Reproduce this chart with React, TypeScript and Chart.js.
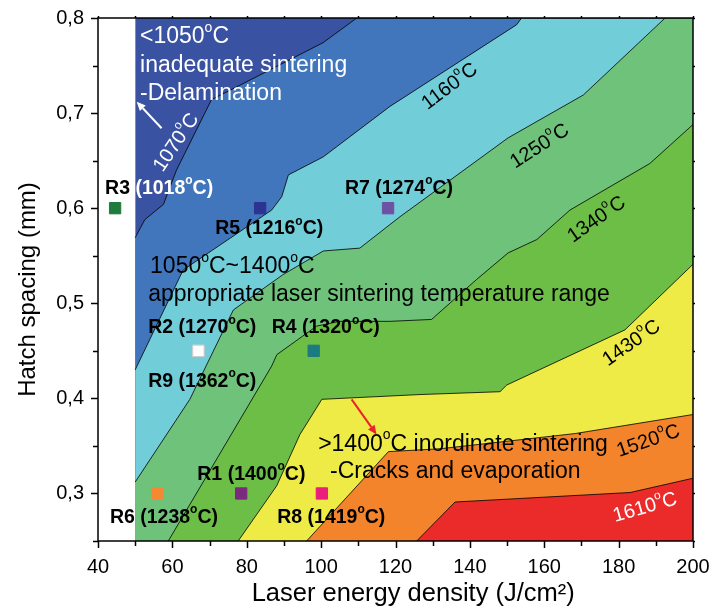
import React, { useEffect, useRef } from 'react';
import { Chart, registerables } from 'chart.js';

Chart.register(...registerables);

const FONT = "'Liberation Sans', Arial, Helvetica, sans-serif";

// ---- axes ----
const X_MIN = 40;
const X_MAX = 200;
const Y_MIN = 0.25;
const Y_MAX = 0.8;
const X_MAJOR = 20;
const X_MINOR = 10;
const Y_MAJOR = 0.1;
const Y_MINOR = 0.05;
const MAP_X_START = 50; // the map starts at 50 J/cm2
const X_TITLE = 'Laser energy density (J/cm²)';
const Y_TITLE = 'Hatch spacing (mm)';

// ---- contour lines [energy density, hatch spacing] ----
const contourLevels = ['1070', '1160', '1250', '1340', '1430', '1520', '1610'];
const c1070 = [[50, 0.569], [52.6, 0.588], [57.6, 0.604], [61.1, 0.64], [70.5, 0.714], [100.5, 0.774], [109.6, 0.8]];
const c1160 = [[50, 0.43], [62.9, 0.535], [86.7, 0.598], [89.4, 0.612], [91.2, 0.635], [100.6, 0.654], [118.5, 0.707], [152.6, 0.793], [153.9, 0.8]];
const c1250 = [[50, 0.312], [64.7, 0.399], [76.4, 0.493], [89.7, 0.53], [100.6, 0.555], [110.4, 0.558], [121.2, 0.591], [150.3, 0.674], [170.5, 0.719], [192.5, 0.8]];
const c1340 = [[58.9, 0.25], [86.7, 0.434], [88.1, 0.446], [98.8, 0.476], [105, 0.481], [118.5, 0.481], [129.7, 0.483], [141.8, 0.525], [150.3, 0.553], [158, 0.567], [166.9, 0.598], [188.4, 0.647], [200, 0.688]];
const c1430 = [[77.7, 0.25], [88.05, 0.308], [94.3, 0.362], [100.2, 0.399], [126.6, 0.404], [148.1, 0.407], [149.9, 0.414], [181.7, 0.472], [200, 0.541]];
const c1520 = [[96.1, 0.25], [118.1, 0.344], [132, 0.347], [168.3, 0.363], [200, 0.383]];
const c1610 = [[125.7, 0.25], [136, 0.291], [183.1, 0.301], [200, 0.316]];
const contourLines = [c1070, c1160, c1250, c1340, c1430, c1520, c1610];

// region colours, from coldest (<1070) to hottest (>1610)
const regionColors = ['#3a52a2', '#4276bc', '#71cdd8', '#6ec27a', '#6cbe46', '#eeea46', '#f3842c', '#eb2a2a'];

// ---- samples ----
const sampleNames = ['R1', 'R2', 'R3', 'R4', 'R5', 'R6', 'R7', 'R8', 'R9'];
const sampleTemps = [1400, 1270, 1018, 1320, 1216, 1238, 1274, 1419, 1362];
const sampleEnergy = [78.5, 67, 44.6, 98, 83.6, 55.9, 118, 100.2, 67];
const sampleHatch = [0.3, 0.45, 0.6, 0.45, 0.6, 0.3, 0.6, 0.3, 0.45];
const sampleColors = ['#7b2a80', '#ffffff', '#1f7b3c', '#1b7b80', '#2d3391', '#f58933', '#6d52a4', '#ea1e7b', '#ffffff'];

// ---- annotation layout (in data coordinates) ----
const sampleLabelAt = [[66.7, 0.32], [53.5, 0.474], [41.9, 0.621], [86.7, 0.474], [71.5, 0.578], [43.2, 0.2745], [106.4, 0.621], [88.2, 0.2745], [53.5, 0.418]];
const contourLabelAt = [[61.1, 0.669, -56], [134.6, 0.728, -37], [158.8, 0.665, -33], [174.1, 0.588, -35], [183.5, 0.458, -35], [188, 0.355, -19], [187.1, 0.285, -16]];
const contourLabelColor = ['#fff', '#000', '#000', '#000', '#000', '#000', '#fff'];
const noteLines = [
  { text: '<1050°C', at: [51.3, 0.78], color: '#fff' },
  { text: 'inadequate sintering', at: [51.3, 0.7496], color: '#fff' },
  { text: '-Delamination', at: [51.3, 0.72], color: '#fff' },
  { text: '1050°C~1400°C', at: [54.0, 0.538], color: '#000' },
  { text: 'appropriate laser sintering temperature range', at: [53.5, 0.509], color: '#000' },
  { text: '>1400°C inordinate sintering', at: [99.2, 0.3515], color: '#000' },
  { text: '-Cracks and evaporation', at: [102.4, 0.3234], color: '#000' },
];
const arrows = [
  { from: [57.1, 0.684], to: [50.4, 0.712], color: '#ffffff' },
  { from: [108.2, 0.399], to: [114.9, 0.362], color: '#e8232a' },
];

type Seg = { t: string; f: string; w: number; sup: boolean };

function drawRich(ctx: CanvasRenderingContext2D, text: string, x: number, y: number,
  size: number, color: string, bold = false, align: 'left' | 'center' = 'left', rot = 0): number {
  const base = `${bold ? 'bold ' : ''}${size}px ${FONT}`;
  const sup = `${bold ? 'bold ' : ''}${Math.round(size * 0.6)}px ${FONT}`;
  const parts = text.split('°');
  const segs: Seg[] = [];
  let total = 0;
  ctx.save();
  parts.forEach((p, i) => {
    if (i > 0) {
      ctx.font = sup;
      const w = ctx.measureText('o').width;
      segs.push({ t: 'o', f: sup, w, sup: true });
      total += w;
    }
    if (p) {
      ctx.font = base;
      const w = ctx.measureText(p).width;
      segs.push({ t: p, f: base, w, sup: false });
      total += w;
    }
  });
  ctx.translate(x, y);
  ctx.rotate((rot * Math.PI) / 180);
  ctx.textBaseline = 'middle';
  ctx.textAlign = 'left';
  ctx.fillStyle = color;
  let cx = align === 'center' ? -total / 2 : 0;
  for (const s of segs) {
    ctx.font = s.f;
    ctx.fillText(s.t, cx, s.sup ? -size * 0.4 : 0);
    cx += s.w;
  }
  ctx.restore();
  return total;
}

const decorPlugin = {
  id: 'decor',
  afterDatasetsDraw(chart: any) {
    const { ctx, scales } = chart;
    const xs = scales.x;
    const ys = scales.y;
    const P = (a: number[]) => [xs.getPixelForValue(a[0]), ys.getPixelForValue(a[1])];

    noteLines.forEach((n) => {
      const [px, py] = P(n.at);
      drawRich(ctx, n.text, px, py, 23, n.color);
    });

    contourLevels.forEach((lv, i) => {
      const a = contourLabelAt[i];
      const [px, py] = P(a);
      drawRich(ctx, `${lv}°C`, px, py, 20, contourLabelColor[i], false, 'center', a[2]);
    });

    sampleNames.forEach((nm, i) => {
      const [px, py] = P(sampleLabelAt[i]);
      const w = drawRich(ctx, `${nm} `, px, py, 19.5, '#000', true);
      const tempColor = nm === 'R3' ? '#fff' : '#000';
      drawRich(ctx, `(${sampleTemps[i]}°C)`, px + w, py, 19.5, tempColor, true);
    });

    arrows.forEach((a) => {
      const [x1, y1] = P(a.from);
      const [x2, y2] = P(a.to);
      const ang = Math.atan2(y2 - y1, x2 - x1);
      const hl = 9;
      const hw = 4;
      ctx.save();
      ctx.strokeStyle = a.color;
      ctx.fillStyle = a.color;
      ctx.lineWidth = 2;
      ctx.beginPath();
      ctx.moveTo(x1, y1);
      ctx.lineTo(x2 - hl * Math.cos(ang), y2 - hl * Math.sin(ang));
      ctx.stroke();
      ctx.beginPath();
      ctx.moveTo(x2, y2);
      ctx.lineTo(x2 - hl * Math.cos(ang) + hw * Math.sin(ang), y2 - hl * Math.sin(ang) - hw * Math.cos(ang));
      ctx.lineTo(x2 - hl * Math.cos(ang) - hw * Math.sin(ang), y2 - hl * Math.sin(ang) + hw * Math.cos(ang));
      ctx.closePath();
      ctx.fill();
      ctx.restore();
    });
  },
  afterDraw(chart: any) {
    const { ctx, chartArea: ca, scales } = chart;
    const xs = scales.x;
    const ys = scales.y;
    ctx.save();
    ctx.strokeStyle = '#000';
    ctx.lineWidth = 1.5;
    ctx.strokeRect(ca.left, ca.top, ca.right - ca.left, ca.bottom - ca.top);
    ctx.beginPath();
    for (let v = X_MIN; v <= X_MAX + 1e-9; v += X_MINOR) {
      const px = Math.round(xs.getPixelForValue(v)) + 0.5;
      const major = Math.abs(v / X_MAJOR - Math.round(v / X_MAJOR)) < 1e-6;
      const len = major ? 7 : 5;
      ctx.moveTo(px, ca.bottom);
      ctx.lineTo(px, ca.bottom + len);
      ctx.moveTo(px, ca.top);
      ctx.lineTo(px, ca.top - 2);
    }
    for (let v = Y_MIN; v <= Y_MAX + 1e-9; v += Y_MINOR) {
      const py = Math.round(ys.getPixelForValue(v)) + 0.5;
      const major = Math.abs(v / Y_MAJOR - Math.round(v / Y_MAJOR)) < 1e-6;
      const len = major ? 7 : 5;
      ctx.moveTo(ca.left, py);
      ctx.lineTo(ca.left - len, py);
      ctx.moveTo(ca.right, py);
      ctx.lineTo(ca.right + 2, py);
    }
    ctx.stroke();
    ctx.restore();
  },
};

function toPoints(pts: number[][]) {
  const arr = pts.map(([x, y]) => ({ x, y }));
  const last = pts[pts.length - 1];
  if (last[1] >= Y_MAX - 1e-9 && last[0] < X_MAX) arr.push({ x: X_MAX, y: Y_MAX });
  return arr;
}

export default function App() {
  const ref = useRef<HTMLCanvasElement>(null);
  useEffect(() => {
    document.body.style.margin = '0';
    const canvas = ref.current;
    if (!canvas) return;
    const nLayers = regionColors.length;
    const datasets: any[] = [];
    datasets.push({
      type: 'line',
      data: [{ x: MAP_X_START, y: Y_MAX }, { x: X_MAX, y: Y_MAX }],
      backgroundColor: regionColors[0],
      borderWidth: 0,
      pointRadius: 0,
      fill: 'start',
      order: nLayers + 1,
    });
    contourLines.forEach((line, i) => {
      datasets.push({
        type: 'line',
        label: contourLevels[i],
        data: toPoints(line),
        backgroundColor: regionColors[i + 1],
        borderColor: '#000',
        borderWidth: 0.8,
        pointRadius: 0,
        tension: 0,
        fill: 'start',
        order: nLayers - i,
      });
    });
    datasets.push({
      type: 'line',
      label: 'samples',
      data: sampleEnergy.map((x, i) => ({ x, y: sampleHatch[i] })),
      showLine: false,
      pointStyle: 'rect',
      pointRadius: 8,
      pointBackgroundColor: sampleColors,
      pointBorderColor: sampleColors.map((c) => (c === '#ffffff' ? '#cccccc' : c)),
      pointBorderWidth: 1,
      order: 0,
    });

    const chart = new Chart(canvas, {
      type: 'line',
      data: { datasets },
      options: {
        animation: false,
        responsive: false,
        devicePixelRatio: 1,
        layout: { padding: { top: 18, right: 18, left: 0, bottom: 0 } },
        plugins: { legend: { display: false }, tooltip: { enabled: false } },
        scales: {
          x: {
            type: 'linear',
            min: X_MIN,
            max: X_MAX,
            grid: { display: false, drawTicks: false },
            border: { display: false },
            ticks: {
              stepSize: X_MAJOR,
              autoSkip: false,
              maxRotation: 0,
              padding: 14,
              color: '#000',
              font: { family: FONT, size: 20 },
              callback: (v: any) => String(v),
            },
            title: {
              display: true,
              text: '     ' + X_TITLE,
              color: '#000',
              font: { family: FONT, size: 25.5, lineHeight: 1 },
              padding: { top: 0, bottom: 0 },
            },
            afterFit: (s: any) => {
              s.height = 66;
              s.paddingLeft = 0;
              s.paddingRight = 0;
            },
          },
          y: {
            type: 'linear',
            min: Y_MIN,
            max: Y_MAX,
            grid: { display: false, drawTicks: false },
            border: { display: false },
            ticks: {
              stepSize: Y_MAJOR,
              autoSkip: false,
              padding: 14,
              color: '#000',
              font: { family: FONT, size: 20 },
              callback: (v: any) => {
                const n = Number(v);
                if (Math.abs(n * 10 - Math.round(n * 10)) > 1e-6) return '';
                return n.toFixed(1).replace('.', ',');
              },
            },
            title: {
              display: true,
              text: Y_TITLE + '   ',
              color: '#000',
              font: { family: FONT, size: 24, lineHeight: 1 },
              padding: { top: 16, bottom: 0 },
            },
            afterFit: (s: any) => {
              s.width = 98;
              s.paddingTop = 0;
              s.paddingBottom = 0;
            },
          },
        },
      },
      plugins: [decorPlugin],
    } as any);
    return () => chart.destroy();
  }, []);
  return (
    <div style={{ width: 711, height: 607 }}>
      <canvas ref={ref} width={711} height={607} style={{ display: 'block' }} />
    </div>
  );
}
